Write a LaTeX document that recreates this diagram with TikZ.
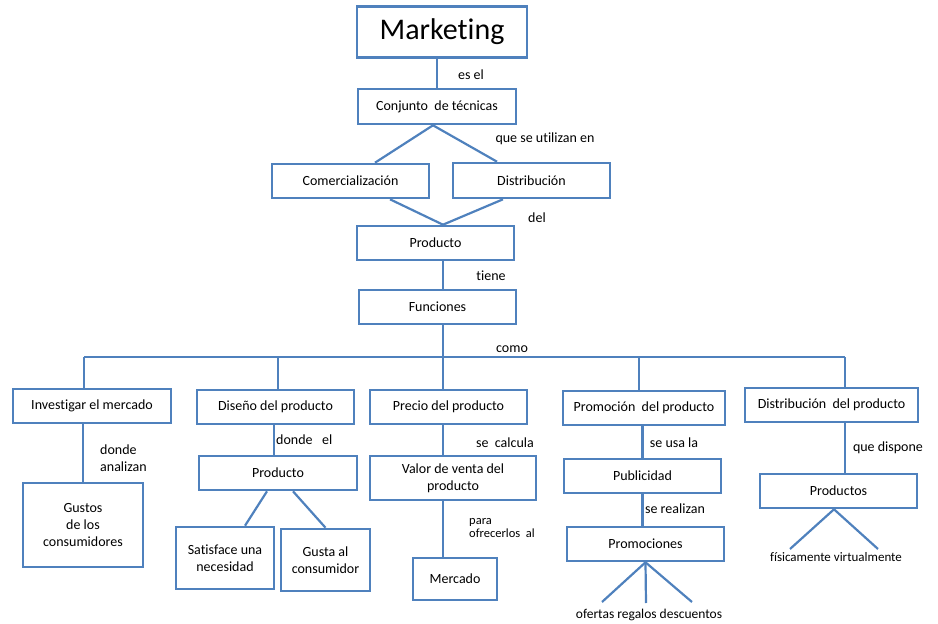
\documentclass[tikz,border=0pt]{standalone}
\usepackage{fontspec}
\setmainfont[Ligatures=NoCommon]{Carlito}
\usepackage{xcolor}
\definecolor{boxblue}{HTML}{4F81BD}

\begin{document}
\begin{tikzpicture}[x=1pt, y=-1pt,
  box/.style={draw=boxblue, line width=2.6pt, fill=white, inner sep=0pt,
              align=center, font=\fontsize{14}{17}\selectfont},
  link/.style={draw=boxblue, line width=2.2pt},
  lbl/.style={font=\fontsize{14}{17}\selectfont, inner sep=0pt, align=left},
  smalllbl/.style={font=\fontsize{12.5}{13}\selectfont, inner sep=0pt, align=left}]
  \useasboundingbox (0,0) rectangle (938,624);

  % Top chain
  \node[box, minimum width=170, minimum height=51, font=\fontsize{30}{33}\selectfont]
        (mkt) at (442,32) {Marketing};
  \node[box, minimum width=158, minimum height=35] (conj) at (437,106.5) {Conjunto~ de técnicas};
  \node[box, minimum width=157, minimum height=34] (comer) at (350.5,181) {Comercialización};
  \node[box, minimum width=157, minimum height=35] (distr) at (531.5,180.5) {Distribución};
  \node[box, minimum width=157, minimum height=34] (prod) at (435.5,243) {Producto};
  \node[box, minimum width=157, minimum height=34] (func) at (437.5,307) {Funciones};

  % Functions row
  \node[box, minimum width=158, minimum height=34] (invest) at (92,406)    {Investigar el mercado};
  \node[box, minimum width=157, minimum height=34] (diseno) at (275.5,407) {Diseño del producto};
  \node[box, minimum width=157, minimum height=34] (precio) at (448.5,407) {Precio del producto};
  \node[box, minimum width=162, minimum height=34] (promo)  at (644,408)   {Promoción~ del producto};
  \node[box, minimum width=173, minimum height=34] (distp)  at (831.5,405) {Distribución~ del producto};

  % Lower boxes
  \node[box, minimum width=120, minimum height=84] (gustos) at (83,525) {Gustos\\de los\\consumidores};
  \node[box, minimum width=158, minimum height=34] (prodb)  at (278,473) {Producto};
  \node[box, minimum width=98, minimum height=62]  (satis)  at (225,558) {Satisface una\\necesidad};
  \node[box, minimum width=89, minimum height=62]  (gusta)  at (325.5,560) {Gusta al\\consumidor};
  \node[box, minimum width=166, minimum height=44] (valor)  at (453,478) {Valor de venta del\\producto};
  \node[box, minimum width=84, minimum height=42]  (merc)   at (455,579) {Mercado};
  \node[box, minimum width=157, minimum height=34] (publi)  at (642.5,476) {Publicidad};
  \node[box, minimum width=157, minimum height=34] (promoc) at (645.5,544) {Promociones};
  \node[box, minimum width=157, minimum height=34] (prods)  at (838.5,491) {Productos};

  % Bar and free ends
  \coordinate (bar)  at (443,357);
  \coordinate (barL) at (84,357);
  \coordinate (barR) at (845,357);
  \coordinate (ofertas)  at (602,602);
  \coordinate (regalos)  at (646,603);
  \coordinate (descu)    at (692,602);
  \coordinate (fisica)   at (790,549);
  \coordinate (virtual)  at (878,549);

  % Connectors
  \draw[link] (mkt.south -| conj.north) -- (conj.north);
  \draw[link] ([xshift=-4pt]conj.south) -- ([xshift=24.5pt]comer.north);
  \draw[link] ([xshift=-4pt]conj.south) -- ([xshift=-34.5pt]distr.north);
  \draw[link] ([xshift=39.5pt]comer.south) -- ([xshift=7.5pt]prod.north);
  \draw[link] ([xshift=-28.5pt]distr.south) -- ([xshift=7.5pt]prod.north);
  \draw[link] (prod.south -| bar) -- (func.north -| bar);
  \draw[link] (func.south -| bar) -- (precio.north -| bar);
  \draw[link] (barL) -- (barR);
  \draw[link] (barL) -- (invest.north -| barL);
  \draw[link] ([xshift=2.5pt]diseno.north |- bar) -- ([xshift=2.5pt]diseno.north);
  \draw[link] ([xshift=-5pt]promo.north |- bar) -- ([xshift=-5pt]promo.north);
  \draw[link] (barR) -- (distp.north -| barR);

  \draw[link] (gustos.north |- invest.south) -- (gustos.north);
  \draw[link] ([xshift=-1.5pt]diseno.south) -- ([xshift=-1.5pt]diseno.south |- prodb.north);
  \draw[link] ([xshift=-11pt]prodb.south) -- ([xshift=20pt]satis.north);
  \draw[link] ([xshift=15pt]prodb.south) -- (gusta.north);
  \draw[link] (precio.south -| bar) -- (valor.north -| bar);
  \draw[link] (valor.south -| bar) -- (merc.north -| bar);
  \draw[link] (publi.north |- promo.south) -- (publi.north);
  \draw[link] (publi.south) -- (publi.south |- promoc.north);
  \draw[link] (promoc.south) -- (ofertas);
  \draw[link] (promoc.south) -- (regalos);
  \draw[link] (promoc.south) -- (descu);
  \draw[link] (prods.north -| barR) -- (distp.south -| barR);
  \draw[link] ([xshift=-4.5pt]prods.south) -- (fisica);
  \draw[link] ([xshift=-4.5pt]prods.south) -- (virtual);

  % Labels
  \node[lbl] (lesel)   at (471,75)  {es el};
  \node[lbl] (lque)    at (545,139) {que se utilizan en};
  \node[lbl] (ldel)    at (537,218) {del};
  \node[lbl] (ltiene)  at (491,276) {tiene};
  \node[lbl] (lcomo)   at (512,349) {como};
  \node[lbl, anchor=west] (ldonde) at (100,458) {donde\\analizan};
  \node[lbl, anchor=west] (ldondeel) at (276,440) {donde~~ el};
  \node[lbl] (lcalc)   at (505,443) {se~ calcula};
  \node[smalllbl, anchor=west] (lpara) at (469,528) {para\\ofrecerlos~ al};
  \node[lbl] (lusa)    at (674,443) {se usa la};
  \node[lbl] (lreal)   at (675,509) {se realizan};
  \node[lbl] (ldisp)   at (888,448) {que dispone};
  \node[smalllbl, font=\fontsize{13.5}{14}\selectfont] (lofertas) at (649,615) {ofertas regalos descuentos};
  \node[smalllbl, font=\fontsize{13}{14}\selectfont] (lfisica)  at (836,557) {físicamente virtualmente};
\end{tikzpicture}
\end{document}
